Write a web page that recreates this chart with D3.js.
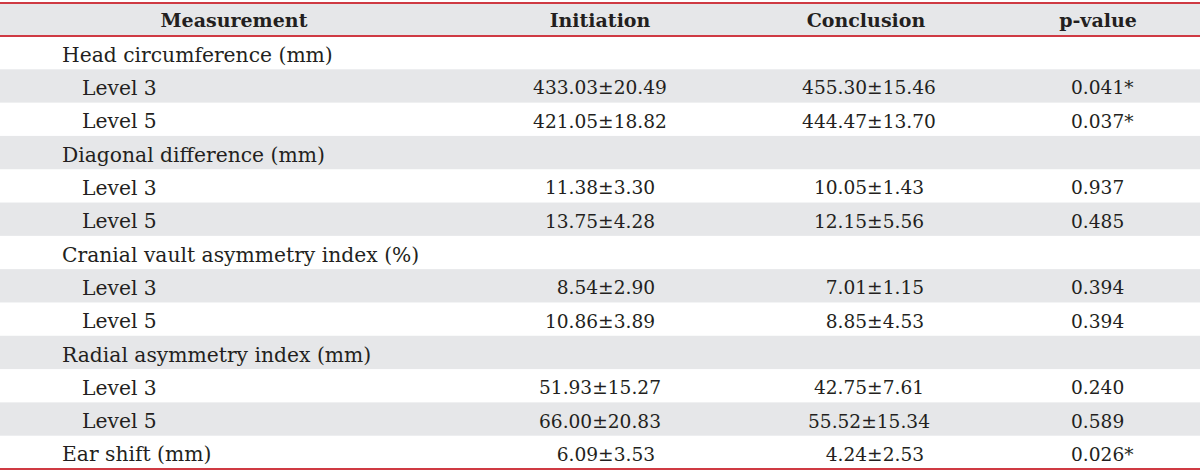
<html>
<head>
<style>
  body { margin: 0; background: #fff; }
  text { font-family: "DejaVu Serif", serif; fill: #231f20; }
</style>
<script src="https://d3js.org/d3.v7.min.js"></script>
</head>
<body>
<svg id="chart" width="1200" height="474"></svg>
<script>
// table data
const headers = ["Measurement", "Initiation", "Conclusion", "p-value"];
const labels = [
  "Head circumference (mm)", "Level 3", "Level 5",
  "Diagonal difference (mm)", "Level 3", "Level 5",
  "Cranial vault asymmetry index (%)", "Level 3", "Level 5",
  "Radial asymmetry index (mm)", "Level 3", "Level 5",
  "Ear shift (mm)"
];
const isSub = [false, true, true, false, true, true, false, true, true, false, true, true, false];
const initMean = [null, 433.03, 421.05, null, 11.38, 13.75, null, 8.54, 10.86, null, 51.93, 66.00, 6.09];
const initSd   = [null, 20.49, 18.82, null, 3.30, 4.28, null, 2.90, 3.89, null, 15.27, 20.83, 3.53];
const concMean = [null, 455.30, 444.47, null, 10.05, 12.15, null, 7.01, 8.85, null, 42.75, 55.52, 4.24];
const concSd   = [null, 15.46, 13.70, null, 1.43, 5.56, null, 1.15, 4.53, null, 7.61, 15.34, 2.53];
const pValues  = [null, 0.041, 0.037, null, 0.937, 0.485, null, 0.394, 0.394, null, 0.240, 0.589, 0.026];
const sigFlag  = [false, true, true, false, false, false, false, false, false, false, false, false, true];

const svg = d3.select("#chart");
const W = 1200;
const red = "#cf3a43";
const shade = "#e6e7e9";
const fsHead = 19, fsLabel = 20.3, fsNum = 18.6;

const headTop = 3, headBot = 36, tableBot = 469;

const y = d3.scaleBand()
  .domain(d3.range(labels.length))
  .range([headBot, tableBot])
  .paddingInner(0);

// header band
svg.append("rect").attr("x", 0).attr("y", headTop).attr("width", W)
  .attr("height", headBot - headTop).attr("fill", shade);

// alternating row shading
svg.selectAll("rect.row")
  .data(d3.range(labels.length).filter(i => i % 2 === 1))
  .join("rect")
  .attr("class", "row")
  .attr("x", 0).attr("y", i => y(i))
  .attr("width", W).attr("height", y.bandwidth())
  .attr("fill", shade);

// rules
[headTop, headBot, tableBot].forEach(v => {
  svg.append("line").attr("x1", 0).attr("x2", W)
    .attr("y1", v).attr("y2", v)
    .attr("stroke", red).attr("stroke-width", 2);
});

// header text
const headX = [234, 600, 866, 1098];
svg.selectAll("text.head")
  .data(headers)
  .join("text")
  .attr("class", "head")
  .attr("x", (d, i) => headX[i])
  .attr("y", (headTop + headBot) / 2)
  .attr("dy", "0.38em")
  .attr("text-anchor", "middle")
  .attr("font-weight", "bold")
  .attr("font-size", fsHead)
  .text(d => d);

const f2 = d3.format(".2f");
const f3 = d3.format(".3f");
const fig = "\u2007";
const ms = (m, s) => (m < 10 ? fig : "") + f2(m) + "±" + f2(s);

const rows = svg.selectAll("g.r")
  .data(d3.range(labels.length))
  .join("g")
  .attr("class", "r")
  .attr("transform", i => `translate(0,${y(i) + y.bandwidth() / 2 + 2})`);

rows.append("text")
  .attr("x", i => isSub[i] ? 82 : 62)
  .attr("dy", "0.35em")
  .attr("font-size", fsLabel)
  .text(i => labels[i]);

rows.filter(i => initMean[i] !== null).append("text")
  .attr("x", 600).attr("dy", "0.35em").attr("text-anchor", "middle")
  .attr("font-size", fsNum)
  .text(i => ms(initMean[i], initSd[i]));

rows.filter(i => concMean[i] !== null).append("text")
  .attr("x", 869).attr("dy", "0.35em").attr("text-anchor", "middle")
  .attr("font-size", fsNum)
  .text(i => ms(concMean[i], concSd[i]));

rows.filter(i => pValues[i] !== null).append("text")
  .attr("x", 1071).attr("dy", "0.35em")
  .attr("font-size", fsNum)
  .text(i => f3(pValues[i]) + (sigFlag[i] ? "*" : ""));
</script>
</body>
</html>
